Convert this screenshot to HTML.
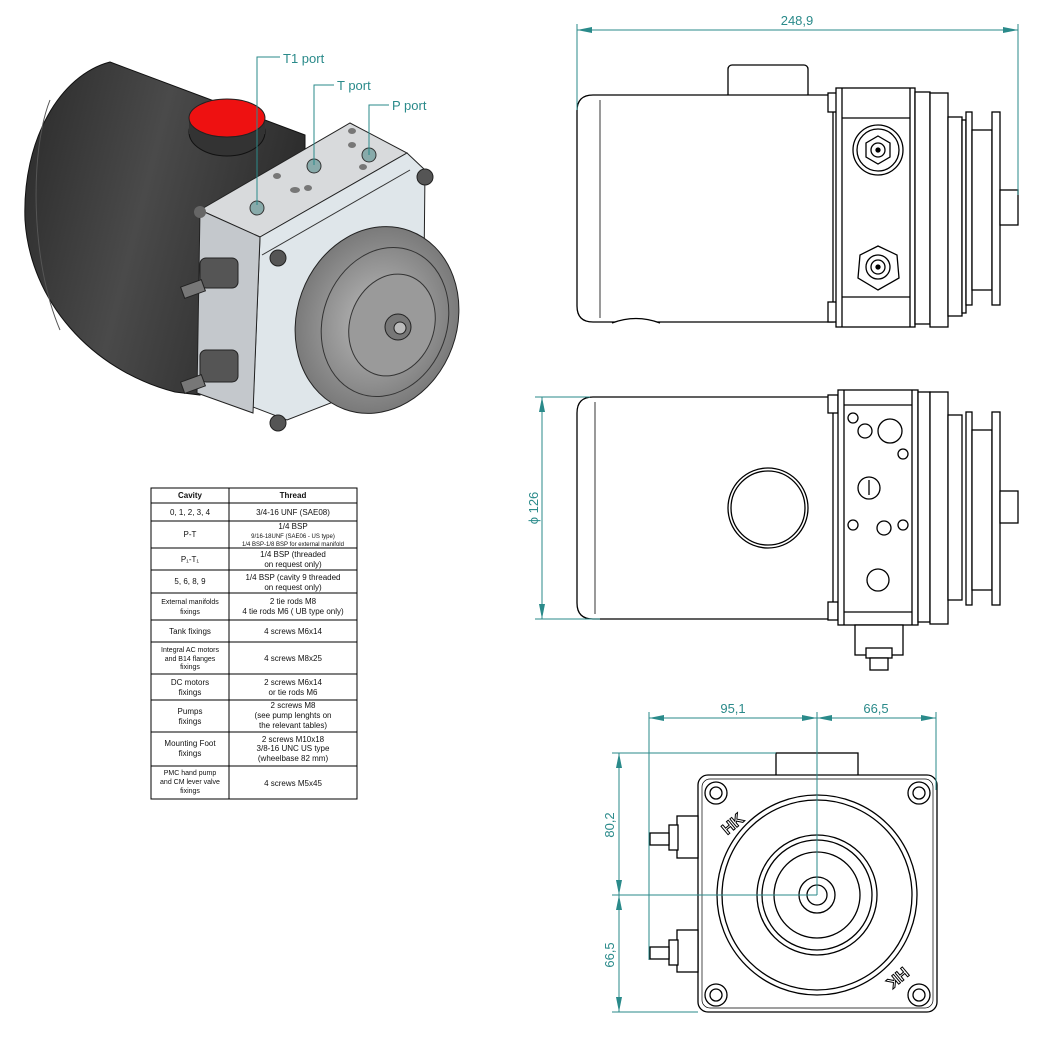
<!DOCTYPE html>
<html><head><meta charset="utf-8"><style>
html,body{margin:0;padding:0;background:#fff;}
svg{display:block;font-family:"Liberation Sans",sans-serif;}
</style></head><body>
<svg width="1059" height="1037" viewBox="0 0 1059 1037" xmlns="http://www.w3.org/2000/svg">
<defs>
<linearGradient id="cyl" x1="0" y1="0" x2="1" y2="0.3"><stop offset="0" stop-color="#2a2a2a"/><stop offset="0.5" stop-color="#4a4a4a"/><stop offset="1" stop-color="#2c2c2c"/></linearGradient>
<radialGradient id="pul" cx="0.5" cy="0.5" r="0.5"><stop offset="0" stop-color="#bcbcbc"/><stop offset="1" stop-color="#7a7a7a"/></radialGradient>
</defs>
<!-- 3D view -->
<path d="M110,62 L305,135 L305,200 L200,300 L200,395 L175,392 C90,370 30,300 25,220 C22,140 60,75 110,62 Z" fill="url(#cyl)" stroke="#111"/>
<path d="M50,100 C30,150 30,260 60,330" fill="none" stroke="#555"/>
<ellipse cx="227" cy="132" rx="38" ry="24" fill="#333" stroke="#111"/>
<rect x="189" y="118" width="76" height="16" fill="#333"/>
<ellipse cx="227" cy="118" rx="38" ry="19" fill="#ee1111" stroke="#222"/>
<polygon points="200,210 350,123 407,153 260,237" fill="#d8dadc" stroke="#222"/>
<polygon points="260,237 407,153 425,170 423,367 287,420 253,407" fill="#dfe6ea" stroke="#222"/>
<polygon points="200,210 260,237 253,413 197,393" fill="#c4c8cc" stroke="#222"/>
<line x1="262" y1="255" x2="410" y2="170" stroke="#333"/>
<circle cx="257" cy="208" r="7" fill="#8aa" stroke="#333"/><circle cx="314" cy="166" r="7" fill="#8aa" stroke="#333"/><circle cx="369" cy="155" r="7" fill="#8aa" stroke="#333"/>
<ellipse cx="295" cy="190" rx="5" ry="3" fill="#777"/><ellipse cx="308" cy="188" rx="4" ry="3" fill="#777"/><ellipse cx="277" cy="176" rx="4" ry="3" fill="#777"/><ellipse cx="352" cy="131" rx="4" ry="3" fill="#777"/><ellipse cx="352" cy="145" rx="4" ry="3" fill="#777"/><ellipse cx="363" cy="167" rx="4" ry="3" fill="#777"/>
<ellipse cx="377" cy="320" rx="80" ry="95" transform="rotate(20 377 320)" fill="url(#pul)" stroke="#222"/>
<ellipse cx="385" cy="322" rx="62" ry="76" transform="rotate(20 385 322)" fill="none" stroke="#333"/>
<ellipse cx="392" cy="325" rx="42" ry="52" transform="rotate(20 392 325)" fill="#9a9a9a" stroke="#333"/>
<circle cx="398" cy="327" r="13" fill="#777" stroke="#222"/><circle cx="400" cy="328" r="6" fill="#bbb" stroke="#222"/>
<circle cx="425" cy="177" r="8" fill="#555" stroke="#222"/><circle cx="278" cy="258" r="8" fill="#555" stroke="#222"/><circle cx="278" cy="423" r="8" fill="#555" stroke="#222"/><circle cx="200" cy="212" r="6" fill="#666"/>
<rect x="200" y="258" width="38" height="30" rx="6" fill="#555" stroke="#222"/><rect x="182" y="283" width="22" height="12" fill="#777" stroke="#222" transform="rotate(-20 193 289)"/>
<rect x="200" y="350" width="38" height="32" rx="6" fill="#555" stroke="#222"/><rect x="182" y="378" width="22" height="12" fill="#777" stroke="#222" transform="rotate(-20 193 384)"/>
<g stroke="#2a8a8a" fill="none" stroke-width="1"><polyline points="257,205 257,57 280,57"/><polyline points="314,165 314,85 334,85"/><polyline points="369,155 369,105 389,105"/></g>
<g fill="#2a8a8a" font-size="13"><text x="283" y="63">T1 port</text><text x="337" y="90">T port</text><text x="392" y="110">P port</text></g>
<!-- table -->
<g stroke="#000" stroke-width="1" fill="none">
<rect x="151" y="488" width="206" height="311"/><line x1="229" y1="488" x2="229" y2="799"/>
<line x1="151" y1="503" x2="357" y2="503"/><line x1="151" y1="521" x2="357" y2="521"/><line x1="151" y1="548" x2="357" y2="548"/><line x1="151" y1="570" x2="357" y2="570"/><line x1="151" y1="593" x2="357" y2="593"/><line x1="151" y1="620" x2="357" y2="620"/><line x1="151" y1="642" x2="357" y2="642"/><line x1="151" y1="674" x2="357" y2="674"/><line x1="151" y1="700" x2="357" y2="700"/><line x1="151" y1="732" x2="357" y2="732"/><line x1="151" y1="766" x2="357" y2="766"/>
</g>
<g font-size="8" text-anchor="middle" fill="#111">
<text x="190" y="498" font-weight="bold">Cavity</text><text x="293" y="498" font-weight="bold">Thread</text>
<text x="190" y="515">0, 1, 2, 3, 4</text><text x="293" y="515">3/4-16 UNF (SAE08)</text>
<text x="190" y="537">P-T</text><text x="293" y="529">1/4 BSP</text><text x="293" y="538" font-size="6">9/16-18UNF (SAE06 - US type)</text><text x="293" y="546" font-size="6">1/4 BSP-1/8 BSP for external manifold</text>
<text x="190" y="562">P₁-T₁</text><text x="293" y="557">1/4 BSP (threaded</text><text x="293" y="567">on request only)</text>
<text x="190" y="584">5, 6, 8, 9</text><text x="293" y="580">1/4 BSP (cavity 9 threaded</text><text x="293" y="590">on request only)</text>
<text x="190" y="604" font-size="7">External manifolds</text><text x="190" y="614" font-size="7">fixings</text><text x="293" y="604">2 tie rods M8</text><text x="293" y="614">4 tie rods M6 ( UB type only)</text>
<text x="190" y="634">Tank fixings</text><text x="293" y="634">4 screws M6x14</text>
<text x="190" y="652" font-size="7">Integral AC motors</text><text x="190" y="661" font-size="7">and B14 flanges</text><text x="190" y="669" font-size="7">fixings</text><text x="293" y="661">4 screws M8x25</text>
<text x="190" y="685">DC motors</text><text x="190" y="695">fixings</text><text x="293" y="685">2 screws M6x14</text><text x="293" y="695">or tie rods M6</text>
<text x="190" y="714">Pumps</text><text x="190" y="724">fixings</text><text x="293" y="708">2 screws M8</text><text x="293" y="718">(see pump lenghts  on</text><text x="293" y="728">the relevant tables)</text>
<text x="190" y="746">Mounting Foot</text><text x="190" y="756">fixings</text><text x="293" y="742">2 screws M10x18</text><text x="293" y="751">3/8-16 UNC US type</text><text x="293" y="761">(wheelbase 82 mm)</text>
<text x="190" y="775" font-size="7">PMC hand pump</text><text x="190" y="784" font-size="7">and CM lever valve</text><text x="190" y="793" font-size="7">fixings</text><text x="293" y="786">4 screws M5x45</text>
</g>
<!-- top view -->
<g stroke="#000" stroke-width="1.3" fill="#fff">
<rect x="728" y="65" width="80" height="35" rx="4"/>
<path d="M833,95 L593,95 Q577,95 577,111 L577,306 Q577,322 593,322 L833,322 Z"/>
<line x1="600" y1="100" x2="600" y2="318" stroke-width="0.8"/>
<path d="M612,323 Q636,314 660,323"/>
<rect x="828" y="93" width="10" height="19"/><rect x="828" y="302" width="10" height="20"/>
<rect x="836" y="88" width="79" height="239"/><line x1="842" y1="118" x2="910" y2="118"/><line x1="842" y1="297" x2="910" y2="297"/><line x1="842" y1="88" x2="842" y2="327"/><line x1="910" y1="88" x2="910" y2="327"/>
<rect x="915" y="92" width="15" height="232"/><rect x="930" y="93" width="18" height="234"/>
<rect x="948" y="117" width="14" height="199"/><rect x="962" y="120" width="4" height="193"/>
<rect x="966" y="112" width="6" height="193"/><rect x="972" y="130" width="20" height="160"/><rect x="992" y="112" width="8" height="193"/>
<rect x="1000" y="190" width="18" height="35"/>
<circle cx="878" cy="150" r="25"/><circle cx="878" cy="150" r="21"/><polygon points="878,136 890,143 890,157 878,164 866,157 866,143"/><circle cx="878" cy="150" r="7"/><circle cx="878" cy="150" r="2" fill="#000"/>
<polygon points="878,246 897,255 899,278 878,290 858,278 860,255"/><circle cx="878" cy="267" r="12"/><circle cx="878" cy="267" r="7"/><circle cx="878" cy="267" r="2" fill="#000"/>
</g>
<g stroke="#2a8a8a" fill="none"><line x1="577" y1="24" x2="577" y2="110"/><line x1="1018" y1="24" x2="1018" y2="195"/><line x1="577" y1="30" x2="1018" y2="30"/></g>
<g fill="#2a8a8a"><polygon points="577,30 592,27 592,33"/><polygon points="1018,30 1003,27 1003,33"/></g>
<text x="797" y="25" fill="#2a8a8a" font-size="13" text-anchor="middle">248,9</text>
<!-- middle view -->
<g stroke="#000" stroke-width="1.3" fill="#fff">
<path d="M833,397 L593,397 Q577,397 577,413 L577,603 Q577,619 593,619 L833,619 Z"/>
<line x1="595" y1="402" x2="595" y2="614" stroke-width="0.8"/>
<circle cx="768" cy="508" r="40"/><circle cx="768" cy="508" r="37"/>
<rect x="828" y="395" width="10" height="18"/><rect x="828" y="602" width="10" height="18"/>
<rect x="838" y="390" width="80" height="235"/><line x1="844" y1="405" x2="912" y2="405"/><line x1="844" y1="612" x2="912" y2="612"/><line x1="844" y1="390" x2="844" y2="625"/><line x1="912" y1="390" x2="912" y2="625"/>
<rect x="918" y="392" width="12" height="230"/><rect x="930" y="392" width="18" height="232"/>
<rect x="948" y="415" width="14" height="185"/><rect x="966" y="412" width="6" height="193"/><rect x="972" y="430" width="20" height="160"/><rect x="992" y="412" width="8" height="193"/>
<rect x="1000" y="491" width="18" height="32"/>
<rect x="855" y="625" width="48" height="30"/><rect x="866" y="648" width="26" height="10"/><rect x="870" y="658" width="18" height="12"/>
<circle cx="853" cy="418" r="5"/><circle cx="865" cy="431" r="7"/><circle cx="890" cy="431" r="12"/><circle cx="903" cy="454" r="5"/><circle cx="869" cy="488" r="11"/><line x1="869" y1="480" x2="869" y2="495"/><circle cx="853" cy="525" r="5"/><circle cx="884" cy="528" r="7"/><circle cx="903" cy="525" r="5"/><circle cx="878" cy="580" r="11"/>
</g>
<g stroke="#2a8a8a" fill="none"><line x1="535" y1="397" x2="590" y2="397"/><line x1="535" y1="619" x2="600" y2="619"/><line x1="542" y1="397" x2="542" y2="619"/></g>
<g fill="#2a8a8a"><polygon points="542,397 539,412 545,412"/><polygon points="542,619 539,604 545,604"/></g>
<text transform="translate(538,508) rotate(-90)" fill="#2a8a8a" font-size="13" text-anchor="middle">ϕ 126</text>
<!-- bottom view -->
<g stroke="#000" stroke-width="1.3" fill="#fff">
<rect x="776" y="753" width="82" height="25"/>
<rect x="698" y="775" width="239" height="237" rx="10"/><rect x="702" y="779" width="231" height="229" rx="8" stroke-width="0.7"/>
<circle cx="716" cy="793" r="11"/><circle cx="716" cy="793" r="6"/><circle cx="919" cy="793" r="11"/><circle cx="919" cy="793" r="6"/><circle cx="716" cy="995" r="11"/><circle cx="716" cy="995" r="6"/><circle cx="919" cy="995" r="11"/><circle cx="919" cy="995" r="6"/>
<circle cx="817" cy="895" r="100"/><circle cx="817" cy="895" r="95"/><circle cx="817" cy="895" r="60"/><circle cx="817" cy="895" r="55"/><circle cx="817" cy="895" r="43"/><circle cx="817" cy="895" r="18"/><circle cx="817" cy="895" r="10"/>
<rect x="677" y="816" width="21" height="42"/><rect x="669" y="825" width="9" height="25"/><rect x="650" y="833" width="19" height="12"/>
<rect x="677" y="930" width="21" height="42"/><rect x="669" y="940" width="9" height="25"/><rect x="650" y="947" width="19" height="12"/>
</g>
<text x="718" y="830" font-size="16" font-weight="bold" transform="rotate(-40 730 820)" fill="#fff" stroke="#000" stroke-width="1">HK</text>
<text x="890" y="985" font-size="16" font-weight="bold" transform="rotate(140 900 978)" fill="#fff" stroke="#000" stroke-width="1">HK</text>
<g stroke="#2a8a8a" fill="none">
<line x1="649" y1="712" x2="649" y2="960"/><line x1="817" y1="712" x2="817" y2="895"/><line x1="936" y1="712" x2="936" y2="790"/>
<line x1="649" y1="718" x2="936" y2="718"/>
<line x1="612" y1="753" x2="776" y2="753"/><line x1="612" y1="895" x2="817" y2="895"/><line x1="612" y1="1012" x2="698" y2="1012"/>
<line x1="619" y1="753" x2="619" y2="1012"/>
</g>
<g fill="#2a8a8a">
<polygon points="649,718 664,715 664,721"/><polygon points="817,718 802,715 802,721"/><polygon points="817,718 832,715 832,721"/><polygon points="936,718 921,715 921,721"/>
<polygon points="619,753 616,768 622,768"/><polygon points="619,895 616,880 622,880"/><polygon points="619,895 616,910 622,910"/><polygon points="619,1012 616,997 622,997"/>
</g>
<g fill="#2a8a8a" font-size="13" text-anchor="middle">
<text x="733" y="713">95,1</text><text x="876" y="713">66,5</text>
<text transform="translate(614,825) rotate(-90)">80,2</text><text transform="translate(614,955) rotate(-90)">66,5</text>
</g>
</svg>
</body></html>
